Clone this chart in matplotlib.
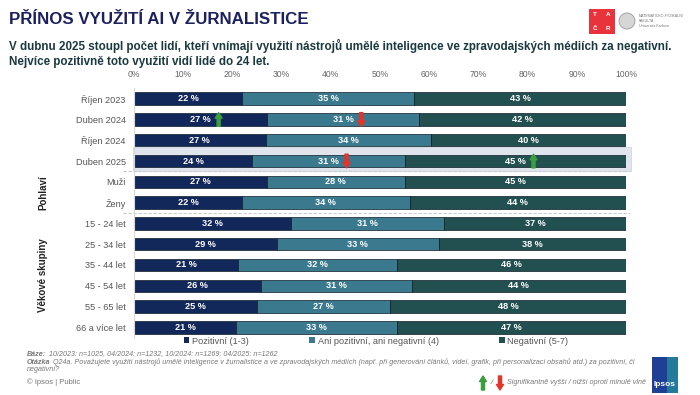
import numpy as np
import matplotlib
matplotlib.use("Agg")
import matplotlib.pyplot as plt
from matplotlib.patches import Rectangle, Ellipse, Patch, FancyArrowPatch

plt.rcParams['font.family'] = ['Liberation Sans', 'DejaVu Sans']

# data
categories = ['Říjen 2023', 'Duben 2024', 'Říjen 2024', 'Duben 2025', 'Muži', 'Ženy',
              '15 - 24 let', '25 - 34 let', '35 - 44 let', '45 - 54 let', '55 - 65 let', '66 a více let']
positive = [22, 27, 27, 24, 27, 22, 32, 29, 21, 26, 25, 21]
neutral = [35, 31, 34, 31, 28, 34, 31, 33, 32, 31, 27, 33]
negative = [43, 42, 40, 45, 45, 44, 37, 38, 46, 44, 48, 47]
series_names = ['Pozitivní (1-3)', 'Ani pozitivní, ani negativní (4)', 'Negativní (5-7)']
# significance arrows: (row, segment, direction)
signif = [(1, 0, 'up'), (1, 1, 'down'), (3, 1, 'down'), (3, 2, 'up')]
groups = [('Pohlaví', 4, 5), ('Věkové skupiny', 6, 11)]
xticks = np.arange(0, 101, 10)

colors = ['#13285a', '#3b7a8e', '#224f4f']
green = '#3d9e3f'
red = '#e5322b'

fig = plt.figure(figsize=(7, 3.95), dpi=100)
ax = fig.add_axes([134 / 700, 1 - 337.7 / 395, 492 / 700, 249.4 / 395])

vals = np.array([positive, neutral, negative], dtype=float)
widths = vals / vals.sum(axis=0) * 100
rows = np.arange(len(categories))

# highlight of latest wave
ax.add_patch(Rectangle((-0.3, 3 - 0.66), 101.3, 1.16, facecolor='#dfe4ed',
                       edgecolor='#d0d7e4', lw=0.6, clip_on=False, zorder=0))

left = np.zeros(len(categories))
for i in range(3):
    ax.barh(rows, widths[i], left=left, height=0.6, color=colors[i],
            edgecolor='#0e1c26', linewidth=0.5, zorder=2)
    for r in rows:
        cx = left[r] + widths[i][r] / 2
        ax.text(cx, r, f'{int(vals[i][r])} %', ha='center', va='center',
                color='white', fontsize=6.6, fontweight='bold', zorder=3)
    left = left + widths[i]

# arrows
starts = np.vstack([np.zeros(len(categories)), np.cumsum(widths, axis=0)[:-1]])
for r, s, d in signif:
    cx = starts[s][r] + widths[s][r] / 2 + 3.7
    if d == 'up':
        a, b, c = r - 0.33, r + 0.33, green
    else:
        a, b, c = r + 0.33, r - 0.33, red
    ax.annotate('', xy=(cx, a), xytext=(cx, b),
                arrowprops=dict(arrowstyle='simple,head_length=0.4,head_width=0.5,tail_width=0.22',
                                color=c, shrinkA=0, shrinkB=0), zorder=4)

# dashed separators
for r in [3, 5]:
    ax.plot([-2.3, 100.8], [r + 0.5, r + 0.5], ls=(0, (3, 1.5)), color='#c9ccd2',
            lw=0.8, clip_on=False, zorder=1)

ax.set_xlim(0, 100)
ax.set_ylim(len(categories) - 0.5, -0.5)
ax.set_yticks(rows)
ax.set_yticklabels(categories, fontsize=6.6, color='#555555')
ax.set_xticks(xticks)
ax.set_xticklabels([f'{t}%' for t in xticks], fontsize=6.2, color='#666666')
ax.xaxis.tick_top()
ax.tick_params(length=0, pad=6)
ax.tick_params(axis='x', pad=7)
for sp in ['top', 'right', 'bottom']:
    ax.spines[sp].set_visible(False)
ax.spines['left'].set_color('#d9d9d9')
ax.patch.set_alpha(0)

for name, r0, r1 in groups:
    ax.text(-18.5, (r0 + r1) / 2, name, rotation=90, ha='center', va='center',
            fontsize=7, fontweight='bold', color='#222222', transform=ax.transData)

# legend
handles = [Patch(facecolor=c, edgecolor='none') for c in colors]
fig.legend(handles, series_names, loc='center', bbox_to_anchor=(376 / 700, 1 - 341 / 395),
           ncol=3, frameon=False, fontsize=6.6, handlelength=0.6, handleheight=0.6,
           handletextpad=0.3, columnspacing=6.6, labelcolor='#555555')

# title + subtitle
fig.text(9 / 700, 1 - 20 / 395, 'PŘÍNOS VYUŽITÍ AI V ŽURNALISTICE', fontsize=12.2,
         fontweight='bold', color='#1b2060', va='center')
fig.text(9 / 700, 1 - 46 / 395,
         'V dubnu 2025 stoupl počet lidí, kteří vnímají využití nástrojů umělé inteligence ve zpravodajských médiích za negativní.',
         fontsize=8.35, fontweight='bold', color='#1b3a40', va='center')
fig.text(9 / 700, 1 - 62 / 395, 'Nejvíce pozitivně toto využití vidí lidé do 24 let.',
         fontsize=8.35, fontweight='bold', color='#1b3a40', va='center')

# footnotes: bold lead word followed by plain italic text
fn = dict(fontsize=5.1, color='#777777', style='italic', va='center')
renderer = fig.canvas.get_renderer()


def note(y, lead, rest):
    t = fig.text(27 / 700, 1 - y / 395, lead, fontweight='bold', **fn)
    bb = t.get_window_extent(renderer)
    fig.text((bb.x1 + 2.5) / 700, 1 - y / 395, rest, **fn)


note(354, 'Báze:', '10/2023: n=1025, 04/2024: n=1232, 10/2024: n=1269; 04/2025: n=1262')
note(362, 'Otázka', 'Q24a. Považujete využití nástrojů umělé inteligence v žurnalistice a ve zpravodajských médiích '
     '(např. při generování článků, videí, grafik, při personalizaci obsahů atd.) za pozitivní, či')
fig.text(27 / 700, 1 - 369.5 / 395, 'negativní?', **fn)
fig.text(27 / 700, 1 - 382 / 395, '© Ipsos | Public', fontsize=5.5, color='#777777', va='center')

# significance note
for x0, c, d in [(483, green, 'up'), (500, red, 'down')]:
    y0, y1 = (390, 376) if d == 'up' else (376, 390)
    fig.add_artist(FancyArrowPatch(
        (x0 / 700, 1 - y0 / 395), (x0 / 700, 1 - y1 / 395), transform=fig.transFigure,
        arrowstyle='simple,head_length=0.4,head_width=0.5,tail_width=0.22', mutation_scale=10,
        color=c, shrinkA=0, shrinkB=0))
fig.text(491.5 / 700, 1 - 383 / 395, '/', fontsize=5.5, color='#777777', style='italic',
         va='center', ha='center')
fig.text(507 / 700, 1 - 383 / 395, 'Signifikantně vyšší / nižší oproti minulé vlně', **fn)

# Ipsos logo
fig.add_artist(Rectangle((652 / 700, 1 - 393 / 395), 26 / 700, 36 / 395,
                         transform=fig.transFigure, facecolor='#1f3f96', edgecolor='none'))
fig.add_artist(Rectangle((667 / 700, 1 - 393 / 395), 11 / 700, 36 / 395,
                         transform=fig.transFigure, facecolor='#2aa3a0', edgecolor='none', alpha=0.6))
fig.text(665 / 700, 1 - 385 / 395, 'Ipsos', fontsize=6, fontweight='bold', color='white',
         ha='center', va='center')

# TACR + MFF logos
fig.add_artist(Rectangle((589 / 700, 1 - 34 / 395), 26 / 700, 25 / 395,
                         transform=fig.transFigure, facecolor='#e8333d', edgecolor='none'))
for t, x, y in [('T', 595, 15), ('A', 608, 15), ('Č', 595, 28), ('R', 608, 28)]:
    fig.text(x / 700, 1 - y / 395, t, fontsize=4.5, fontweight='bold', color='white',
             ha='center', va='center')
fig.add_artist(Ellipse((627 / 700, 1 - 21 / 395), 16 / 700, 16 / 395, transform=fig.transFigure,
                       facecolor='#d6d6d6', edgecolor='#999999', lw=0.6))
fig.text(639 / 700, 1 - 21 / 395, 'MATEMATICKO-FYZIKÁLNÍ\nFAKULTA\nUniverzita Karlova',
         fontsize=2.6, color='#777777', va='center', linespacing=1.3)

fig.savefig('out.png', dpi=100)
